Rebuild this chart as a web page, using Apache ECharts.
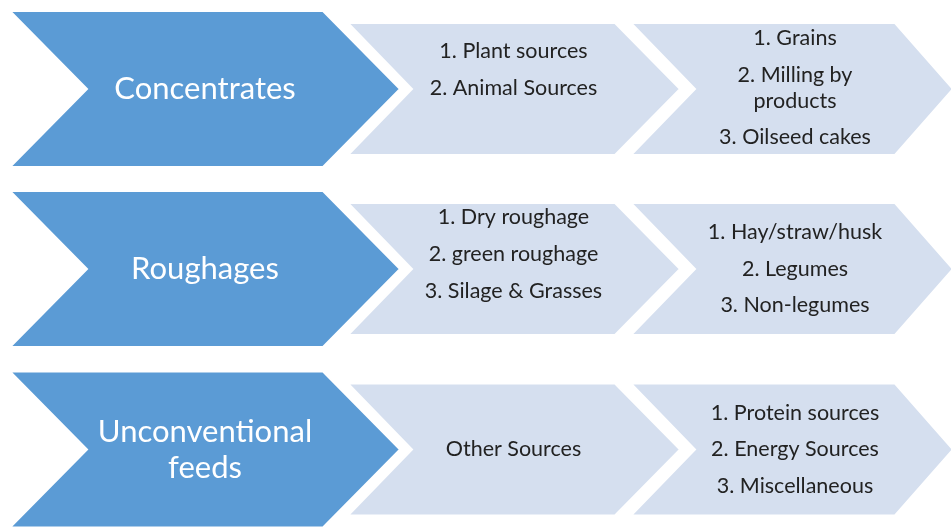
<!DOCTYPE html>
<html>
<head>
<meta charset="utf-8">
<script src="https://cdn.jsdelivr.net/npm/echarts@6/dist/echarts.min.js"></script>
<style>
  html, body { margin: 0; padding: 0; background: #fff; }
  #main { width: 951px; height: 527px; }
</style>
</head>
<body>
<div id="main"></div>
<script>
// feed groups (first chevron of each row)
var feedGroups = ['Concentrates', 'Roughages', 'Unconventional\nfeeds'];
// second chevron: sources
var sourceItems = [
  ['1. Plant sources', '2. Animal Sources', ''],
  ['1. Dry roughage', '2. green roughage', '3. Silage & Grasses'],
  ['Other Sources']
];
// third chevron: examples
var detailItems = [
  ['1. Grains', '2. Milling by\nproducts', '3. Oilseed cakes'],
  ['1. Hay/straw/husk', '2. Legumes', '3. Non-legumes'],
  ['1. Protein sources', '2. Energy Sources', '3. Miscellaneous']
];

// layout (pixel space of the hidden axes)
var rowCenters = [89, 269, 449.5];
var columns = [
  { left: 10, notch: 87, shoulder: 323, tip: 400, half: 78, fill: '#5B9BD5', color: '#ffffff', size: 31, lh: 36, gap: 0, shift: [0, 0, 0] },
  { left: 348, notch: 412, shoulder: 615, tip: 680, half: 66, fill: '#D5DFEF', color: '#222222', size: 21.5, lh: 26, gap: 11, shift: [-1, -15, 0] },
  { left: 631, notch: 695, shoulder: 895, tip: 953, half: 66, fill: '#D5DFEF', color: '#222222', size: 21.5, lh: 26, gap: 10.5, shift: [-1, 0, 0] }
];

var cells = [];
for (var r = 0; r < feedGroups.length; r++) {
  cells.push([0, r]);
  cells.push([1, r]);
  cells.push([2, r]);
}

function textFor(col, row) {
  if (col === 0) return [feedGroups[row]];
  if (col === 1) return sourceItems[row];
  return detailItems[row];
}

function layoutLines(items, lh, gap) {
  var out = [];
  var y = 0;
  for (var i = 0; i < items.length; i++) {
    var parts = items[i].split('\n');
    for (var j = 0; j < parts.length; j++) {
      out.push({ text: parts[j], y: y });
      if (j < parts.length - 1) y += lh;
    }
    if (i < items.length - 1) y += lh + gap;
  }
  var mid = y / 2;
  out.forEach(function (l) { l.y -= mid; });
  return out;
}

function renderItem(params, api) {
  var col = api.value(0);
  var row = api.value(1);
  var c = columns[col];
  var cy = rowCenters[row];
  var pts = [
    [c.left, cy - c.half],
    [c.shoulder, cy - c.half],
    [c.tip, cy],
    [c.shoulder, cy + c.half],
    [c.left, cy + c.half],
    [c.notch, cy]
  ].map(function (p) { return api.coord(p); });

  var children = [{
    type: 'polygon',
    shape: { points: pts },
    style: { fill: c.fill, stroke: '#ffffff', lineWidth: 2 }
  }];

  var cx = (c.notch + c.shoulder) / 2;
  var ty = cy + c.shift[row];
  var lines = layoutLines(textFor(col, row), c.lh, c.gap);
  lines.forEach(function (l) {
    var p = api.coord([cx, ty + l.y]);
    children.push({
      type: 'text',
      x: p[0],
      y: p[1],
      style: {
        text: l.text,
        fill: c.color,
        font: c.size + 'px Lato, "Open Sans", sans-serif',
        align: 'center',
        verticalAlign: 'middle'
      }
    });
  });
  return { type: 'group', children: children };
}

var chart = echarts.init(document.getElementById('main'), null, { renderer: 'canvas' });
chart.setOption({
  animation: false,
  backgroundColor: '#ffffff',
  grid: { left: 0, right: 0, top: 0, bottom: 0 },
  xAxis: { type: 'value', min: 0, max: 951, show: false },
  yAxis: { type: 'value', min: 0, max: 527, inverse: true, show: false },
  series: [{
    type: 'custom',
    clip: false,
    renderItem: renderItem,
    data: cells
  }]
});
</script>
</body>
</html>
